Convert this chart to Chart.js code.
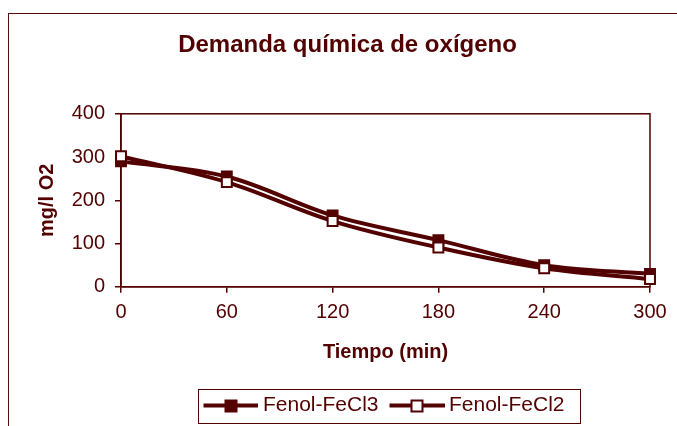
<!DOCTYPE html>
<html>
<head>
<meta charset="utf-8">
<script src="https://cdn.jsdelivr.net/npm/chart.js@4.4.0/dist/chart.umd.min.js"></script>
<style>
  html, body { margin: 0; padding: 0; background: #fff; overflow: hidden; }
  #frame { position: absolute; left: 8px; top: 13px; width: 800px; height: 600px; border: 1px solid #5a0a0a; }
  #wrap { position: absolute; left: 0; top: 0; width: 677px; height: 426px; }
</style>
</head>
<body>
<div id="frame"></div>
<div id="wrap"><canvas id="dqo" width="677" height="426"></canvas></div>
<script>
// DQO (mg/l O2) vs tiempo, dos tratamientos
const tiempos = ['0', '60', '120', '180', '240', '300'];
const fenolFeCl3 = [290, 255, 165, 108, 50, 30];
const fenolFeCl2 = [302, 242, 152, 91, 43, 18];
const yTicks = [0, 100, 200, 300, 400];

const MAROON = '#520000';
const FONT = "'Liberation Sans', Arial, sans-serif";

// small line + square sample used as legend symbol
function lineSample(filled) {
    const c = document.createElement('canvas');
    c.width = 64;
    c.height = 16;
    const g = c.getContext('2d');
    g.strokeStyle = MAROON;
    g.lineWidth = 4;
    g.beginPath();
    g.moveTo(9, 8);
    g.lineTo(64, 8);
    g.stroke();
    g.beginPath();
    g.rect(31, 3, 11, 11);
    g.fillStyle = filled ? MAROON : '#fff';
    g.fill();
    g.lineWidth = 2;
    g.stroke();
    return c;
}

const boxes = {
    id: 'boxes',
    afterLayout(chart) {
        // push the legend row a bit to the right, under the plot
        const lg = chart.legend;
        lg.left += 35;
        lg.right += 35;
    },
    beforeDatasetsDraw(chart) {
        const { ctx, chartArea: a } = chart;
        ctx.save();
        ctx.strokeStyle = MAROON;
        ctx.lineWidth = 1.5;
        ctx.strokeRect(a.left, a.top, a.right - a.left, a.bottom - a.top);
        ctx.restore();
    },
    afterDraw(chart) {
        const hb = chart.legend.legendHitBoxes;
        if (!hb || !hb.length) return;
        const { ctx } = chart;
        const last = hb[hb.length - 1];
        const left = hb[0].left - 2;
        const right = last.left + last.width + 16;
        const cy = hb[0].top + hb[0].height / 2;
        ctx.save();
        ctx.strokeStyle = MAROON;
        ctx.lineWidth = 1;
        ctx.strokeRect(Math.round(left) + 0.5, Math.round(cy - 17) + 0.5, Math.round(right - left), 34);
        ctx.restore();
    }
};

const ctx = document.getElementById('dqo').getContext('2d');
const chart = new Chart(ctx, {
    type: 'line',
    data: {
        labels: tiempos,
        datasets: [
            {
                label: 'Fenol-FeCl3',
                data: fenolFeCl3,
                borderColor: MAROON,
                borderWidth: 4,
                backgroundColor: MAROON,
                pointStyle: 'rect',
                pointRadius: 7,
                pointBorderWidth: 2,
                pointBackgroundColor: MAROON,
                pointBorderColor: MAROON,
                tension: 0.35,
                clip: false,
                order: 1
            },
            {
                label: 'Fenol-FeCl2',
                data: fenolFeCl2,
                borderColor: MAROON,
                borderWidth: 4,
                backgroundColor: '#fff',
                pointStyle: 'rect',
                pointRadius: 7,
                pointBorderWidth: 2,
                pointBackgroundColor: '#fff',
                pointBorderColor: MAROON,
                tension: 0.35,
                clip: false,
                order: 0
            }
        ]
    },
    options: {
        responsive: false,
        animation: false,
        devicePixelRatio: 1,
        layout: { padding: { left: 45, right: 27, top: 0, bottom: 0 } },
        plugins: {
            title: {
                display: true,
                text: 'Demanda química de oxígeno',
                color: MAROON,
                font: { family: FONT, size: 24, weight: 'bold' },
                padding: { top: 31, bottom: 54 }
            },
            legend: {
                position: 'bottom',
                title: { display: true, text: '', font: { size: 1 }, padding: { top: 3, bottom: 0 } },
                labels: {
                    usePointStyle: true,
                    pointStyleWidth: 52,
                    padding: 8,
                    color: MAROON,
                    font: { family: FONT, size: 21 },
                    generateLabels: function () {
                        return [
                            { text: 'Fenol-FeCl3', pointStyle: lineSample(true), fontColor: MAROON, lineWidth: 0, hidden: false, datasetIndex: 0 },
                            { text: 'Fenol-FeCl2', pointStyle: lineSample(false), fontColor: MAROON, lineWidth: 0, hidden: false, datasetIndex: 1 }
                        ];
                    }
                }
            },
            tooltip: { enabled: false }
        },
        scales: {
            x: {
                type: 'category',
                offset: false,
                grid: { drawOnChartArea: false, tickLength: 6, color: MAROON, lineWidth: 1.5 },
                border: { color: MAROON, width: 1.5 },
                ticks: { color: MAROON, font: { family: FONT, size: 20 }, padding: 8, maxRotation: 0 },
                title: {
                    display: true,
                    text: 'Tiempo (min)',
                    color: MAROON,
                    font: { family: FONT, size: 20, weight: 'bold' },
                    padding: { top: 0, bottom: 18 }
                },
                afterFit: function (scale) { scale.height = 96; }
            },
            y: {
                min: 0,
                max: 400,
                afterBuildTicks: function (scale) {
                    scale.ticks = yTicks.map(v => ({ value: v }));
                },
                grid: { drawOnChartArea: false, tickLength: 6, color: MAROON, lineWidth: 1.5 },
                border: { color: MAROON, width: 1.5 },
                ticks: { color: MAROON, font: { family: FONT, size: 20 }, padding: 10 },
                title: {
                    display: true,
                    text: 'mg/l O2',
                    color: MAROON,
                    font: { family: FONT, size: 20, weight: 'bold' },
                    padding: { top: -10, bottom: 0 }
                },
                afterFit: function (scale) { scale.width = 76; }
            }
        }
    },
    plugins: [boxes]
});
</script>
</body>
</html>
